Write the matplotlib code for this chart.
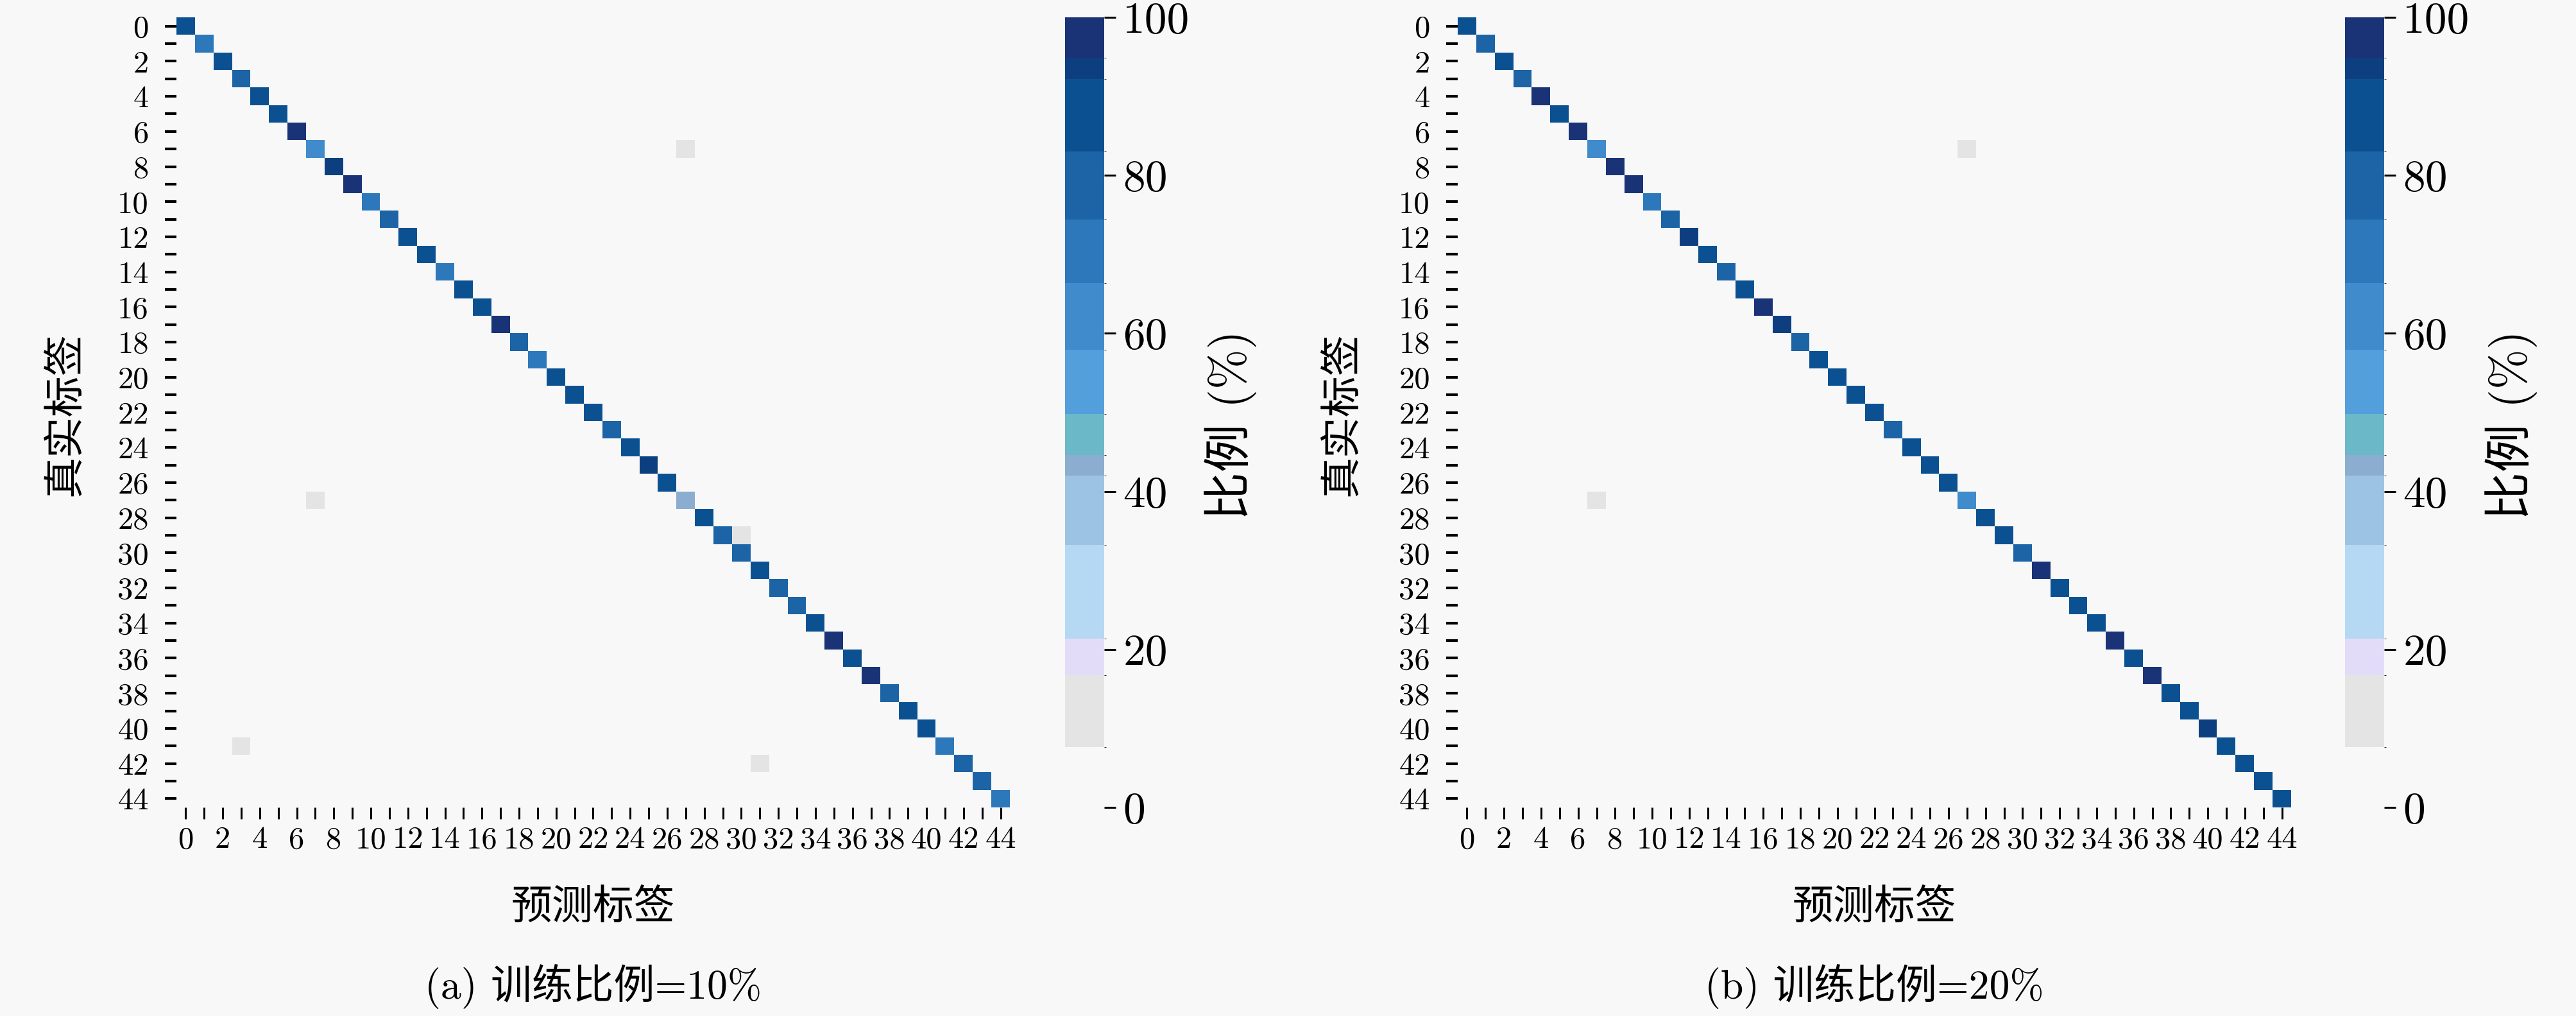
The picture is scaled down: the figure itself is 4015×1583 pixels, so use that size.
import numpy as np
import matplotlib
matplotlib.use("Agg")
import matplotlib.pyplot as plt
from matplotlib.colors import ListedColormap, BoundaryNorm
from matplotlib.cm import ScalarMappable

plt.rcParams['font.family'] = ['cmr10', 'Noto Sans CJK SC', 'DejaVu Sans']
plt.rcParams['axes.unicode_minus'] = False
plt.rcParams['axes.formatter.use_mathtext'] = True

# ---------------- data ----------------
n_classes = 45
class_labels = list(range(n_classes))

# diagonal (correct-classification %) per class, training ratio 10%
diag_10 = [87, 70, 87, 76, 88, 86, 97, 60, 93.5, 96,
           67, 78, 88, 88, 67, 87, 86, 97, 78, 70,
           86, 86, 87, 78, 86, 93.5, 87, 43, 86, 77,
           76, 86, 78, 77, 88, 97, 86, 97, 76, 86,
           86, 70, 76, 77, 70]
# off-diagonal small confusions (row, col, %)
off_rows_10 = [7, 27, 29, 41, 42]
off_cols_10 = [27, 7, 30, 3, 31]
off_vals_10 = [12, 12, 12, 12, 12]

# training ratio 20%
diag_20 = [87, 78, 86, 78, 95, 86, 96, 60, 96, 95.5,
           67, 78, 93.5, 89, 78, 87, 96, 93.5, 78, 86,
           86, 87, 86, 78, 86, 86, 87, 60, 86, 86,
           78, 95.5, 86, 87, 85, 96, 87, 96, 86, 87,
           93.5, 86, 86, 86, 87]
off_rows_20 = [7, 27]
off_cols_20 = [27, 7]
off_vals_20 = [12, 12]

# discrete colour scale (boundaries in %, colours per bin)
cbar_bounds = [0, 7.6, 16.7, 21.4, 33.2, 42.0, 44.6, 49.8, 57.9, 66.4, 74.4, 83.0, 92.2, 94.9, 100]
cbar_colors = ['#f8f8f8', '#e4e4e4', '#e2dcf8', '#b5d8f3', '#9cc3e3', '#8badd0', '#6bb8c8',
               '#539fdb', '#3f8bcb', '#2d78bb', '#1c64a6', '#0b5192', '#0d3f80', '#1a3276']
cbar_ticks = [0, 20, 40, 60, 80, 100]

subcaptions = ['(a) 训练比例=10%', '(b) 训练比例=20%']
xlabel = '预测标签'
ylabel = '真实标签'
cbar_label = '比例 (%)'

# ---------------- build matrices ----------------
def build(diag, rows, cols, vals):
    m = np.zeros((n_classes, n_classes))
    m[np.arange(n_classes), np.arange(n_classes)] = diag
    for r, c, v in zip(rows, cols, vals):
        m[r, c] = v
    return m

mats = [build(diag_10, off_rows_10, off_cols_10, off_vals_10),
        build(diag_20, off_rows_20, off_cols_20, off_vals_20)]

cmap = ListedColormap(cbar_colors)
norm = BoundaryNorm(cbar_bounds, cmap.N)

# ---------------- figure ----------------
W, H = 4016, 1583
BG = '#f8f8f8'
fig = plt.figure(figsize=(W / 100, H / 100), dpi=100, facecolor=BG)

def fx(px):
    return px / W

def fy(py):
    return 1 - py / H

hm_top, hm_bot = 27, 1258
panels = [dict(x0=275, x1=1574, cb0=1660, cb1=1721, cbl=1918, yl=102),
          dict(x0=2272, x1=3571, cb0=3655, cb1=3716, cbl=3914, yl=2092)]

tick_fs = 35
cb_fs = 50
lab_fs = 46
cbl_fs = 54

for p, mat, cap in zip(panels, mats, subcaptions):
    ax = fig.add_axes([fx(p['x0']), fy(hm_bot), fx(p['x1'] - p['x0']), (hm_bot - hm_top) / H])
    ax.set_facecolor(BG)
    ax.imshow(mat, cmap=cmap, norm=norm, aspect='auto', interpolation='nearest')
    for s in ax.spines.values():
        s.set_visible(False)
    ax.set_xticks(class_labels)
    ax.set_yticks(class_labels)
    ax.set_xticklabels([str(i) if i % 2 == 0 else '' for i in class_labels])
    ax.set_yticklabels([str(i) if i % 2 == 0 else '' for i in class_labels])
    ax.tick_params(axis='y', length=13, width=3, pad=18, labelsize=tick_fs)
    ax.tick_params(axis='x', length=13, width=2.2, pad=8, labelsize=tick_fs)

    # colorbar
    cax = fig.add_axes([fx(p['cb0']), fy(hm_bot), fx(p['cb1'] - p['cb0']), (hm_bot - hm_top) / H])
    sm = ScalarMappable(norm=norm, cmap=cmap)
    cb = fig.colorbar(sm, cax=cax, ticks=cbar_ticks, spacing='proportional')
    cb.outline.set_visible(False)
    cb.ax.set_yticklabels([str(t) for t in cbar_ticks])
    cb.ax.tick_params(length=13, width=2.2, pad=8, labelsize=cb_fs)

    cx = (p['x0'] + p['x1']) / 2
    fig.text(fx(p['cbl']), fy(662), cbar_label, rotation=90, ha='center', va='center', fontsize=cbl_fs)
    fig.text(fx(p['yl']), fy(645), ylabel, rotation=90, ha='center', va='center', fontsize=lab_fs)
    fig.text(fx(cx), fy(1416), xlabel, ha='center', va='center', fontsize=lab_fs)
    fig.text(fx(cx), fy(1537), cap, ha='center', va='center', fontsize=lab_fs)

fig.savefig('out.png', dpi=100, facecolor=BG)
